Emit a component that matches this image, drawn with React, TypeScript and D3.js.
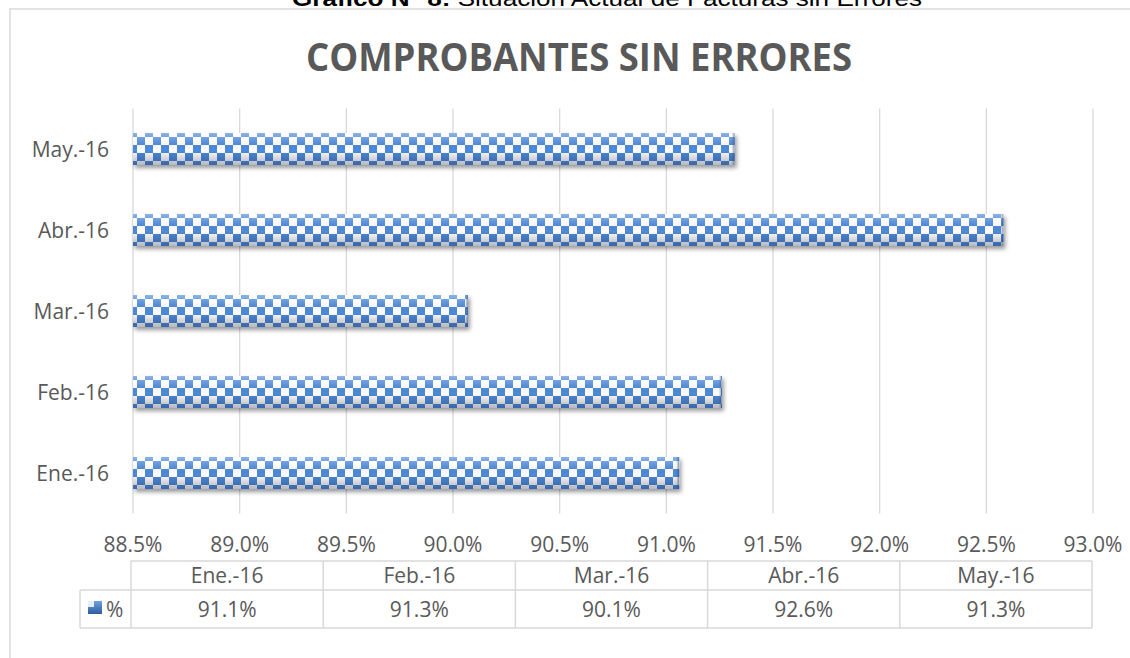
import React from "react";
import * as d3 from "d3";

const categories = ["Ene.-16", "Feb.-16", "Mar.-16", "Abr.-16", "May.-16"];
const values = [91.06, 91.26, 90.07, 92.58, 91.32];
const xTicks = [88.5, 89.0, 89.5, 90.0, 90.5, 91.0, 91.5, 92.0, 92.5, 93.0];
const seriesName = "%";
const chartTitle = "COMPROBANTES SIN ERRORES";
const captionBold = "Gráfico N° 8:";
const captionRest = " Situación Actual de Facturas sin Errores";

const W = 1130;
const H = 658;
const FONT = "'Open Sans', sans-serif";
const TEXT = "#595959";
const GRID = "#d9d9d9";
const BLUE = "#4d8ad8";

export default function App() {
  const x = d3.scaleLinear().domain([88.5, 93.0]).range([133, 1093]);
  const y = d3
    .scaleBand<string>()
    .domain(categories.slice().reverse())
    .range([108.5, 513.5])
    .paddingInner(0.605)
    .paddingOuter(0.3025);
  const bh = y.bandwidth();
  const fmtTick = (v: number) => d3.format(".1f")(v) + "%";
  const fmtVal = (v: number) => d3.format(".1f")(v) + "%";

  const tableLeft = 131;
  const tableRight = 1092;
  const colW = (tableRight - tableLeft) / categories.length;
  const tTop = 561;
  const tMid = 590;
  const tBot = 628;
  const legLeft = 80;

  return (
    <svg
      width={W}
      height={H}
      style={{ position: "absolute", left: 0, top: 0, background: "#fff" }}
    >
      <defs>
        <linearGradient id="shade" x1="0" y1="0" x2="0" y2="1">
          <stop offset="0%" stopColor="#ffffff" stopOpacity={0.35} />
          <stop offset="20%" stopColor="#ffffff" stopOpacity={0.15} />
          <stop offset="55%" stopColor="#000000" stopOpacity={0} />
          <stop offset="100%" stopColor="#10224a" stopOpacity={0.32} />
        </linearGradient>
        <linearGradient id="edgeR" x1="0" y1="0" x2="1" y2="0">
          <stop offset="0%" stopColor="#2d4d80" stopOpacity={0} />
          <stop offset="100%" stopColor="#2d4d80" stopOpacity={0.6} />
        </linearGradient>
        <linearGradient id="legFill" x1="0" y1="0" x2="0" y2="1">
          <stop offset="0%" stopColor="#6f9fe0" />
          <stop offset="100%" stopColor="#2f5e9e" />
        </linearGradient>
        <filter id="shadow" x="-5%" y="-30%" width="110%" height="170%">
          <feDropShadow dx="2" dy="3" stdDeviation="2" floodColor="#000" floodOpacity="0.4" />
        </filter>
        {categories.map((c, i) => {
          const by = y(c) as number;
          return (
            <pattern
              key={"p" + i}
              id={"chk" + i}
              patternUnits="userSpaceOnUse"
              x={x(88.5) - 4}
              y={by - 4}
              width={16}
              height={16}
            >
              <rect width={16} height={16} fill="#ffffff" />
              <rect x={0} y={0} width={8} height={8} fill={BLUE} />
              <rect x={8} y={8} width={8} height={8} fill={BLUE} />
            </pattern>
          );
        })}
      </defs>

      {/* caption above chart (clipped at the top edge, as in the original) */}
      <text
        x={607}
        y={6}
        textAnchor="middle"
        fontFamily="'Liberation Sans', Arial, sans-serif"
        fontSize={22}
        fill="#000"
        textLength={630}
        lengthAdjust="spacingAndGlyphs"
      >
        <tspan fontWeight="bold">{captionBold}</tspan>
        <tspan>{captionRest}</tspan>
      </text>

      {/* chart frame */}
      <rect x={10} y={9} width={1200} height={700} fill="#fff" stroke={GRID} strokeWidth={1.5} />

      {/* title */}
      <text
        x={579}
        y={71}
        textAnchor="middle"
        fontFamily={FONT}
        fontWeight="bold"
        fontSize={39}
        fill={TEXT}
        textLength={546}
        lengthAdjust="spacingAndGlyphs"
      >
        {chartTitle}
      </text>

      {/* gridlines */}
      {xTicks.map((t, i) => (
        <line
          key={"g" + i}
          x1={x(t)}
          x2={x(t)}
          y1={108.5}
          y2={513.5}
          stroke={GRID}
          strokeWidth={1.3}
        />
      ))}

      {/* bars */}
      {categories.map((c, i) => {
        const by = y(c) as number;
        const x0 = x(88.5);
        const x1 = x(values[i]);
        return (
          <g key={"b" + i}>
            <rect x={x0} y={by} width={x1 - x0} height={bh} fill={`url(#chk${i})`} filter="url(#shadow)" />
            <rect x={x0} y={by} width={x1 - x0} height={bh} fill="url(#shade)" />
            <rect x={x1 - 3} y={by} width={3} height={bh} fill="url(#edgeR)" />
          </g>
        );
      })}

      {/* category labels */}
      {categories.map((c, i) => (
        <text
          key={"c" + i}
          x={109}
          y={(y(c) as number) + bh / 2 + 7.5}
          textAnchor="end"
          fontFamily={FONT}
          fontSize={21}
          fill={TEXT}
        >
          {c}
        </text>
      ))}

      {/* x tick labels */}
      {xTicks.map((t, i) => (
        <text
          key={"t" + i}
          x={x(t)}
          y={552}
          textAnchor="middle"
          fontFamily={FONT}
          fontSize={21}
          fill={TEXT}
        >
          {fmtTick(t)}
        </text>
      ))}

      {/* data table */}
      <g stroke={GRID} strokeWidth={1.5} fill="none">
        <line x1={tableLeft} x2={tableRight} y1={tTop} y2={tTop} />
        <line x1={legLeft} x2={tableRight} y1={tMid} y2={tMid} />
        <line x1={legLeft} x2={tableRight} y1={tBot} y2={tBot} />
        <line x1={legLeft} x2={legLeft} y1={tMid} y2={tBot} />
        {d3.range(categories.length + 1).map((k) => (
          <line
            key={"v" + k}
            x1={tableLeft + k * colW}
            x2={tableLeft + k * colW}
            y1={tTop}
            y2={tBot}
          />
        ))}
      </g>
      {categories.map((c, i) => (
        <g key={"tc" + i}>
          <text
            x={tableLeft + (i + 0.5) * colW}
            y={583}
            textAnchor="middle"
            fontFamily={FONT}
            fontSize={21}
            fill={TEXT}
          >
            {c}
          </text>
          <text
            x={tableLeft + (i + 0.5) * colW}
            y={617}
            textAnchor="middle"
            fontFamily={FONT}
            fontSize={21}
            fill={TEXT}
          >
            {fmtVal(values[i])}
          </text>
        </g>
      ))}
      {/* legend key */}
      <rect x={88} y={601} width={14} height={13} fill="url(#legFill)" />
      <rect x={88} y={601} width={6} height={6} fill="#e8eef8" />
      <text x={106} y={617} fontFamily={FONT} fontSize={21} fill={TEXT}>
        {seriesName}
      </text>
    </svg>
  );
}
